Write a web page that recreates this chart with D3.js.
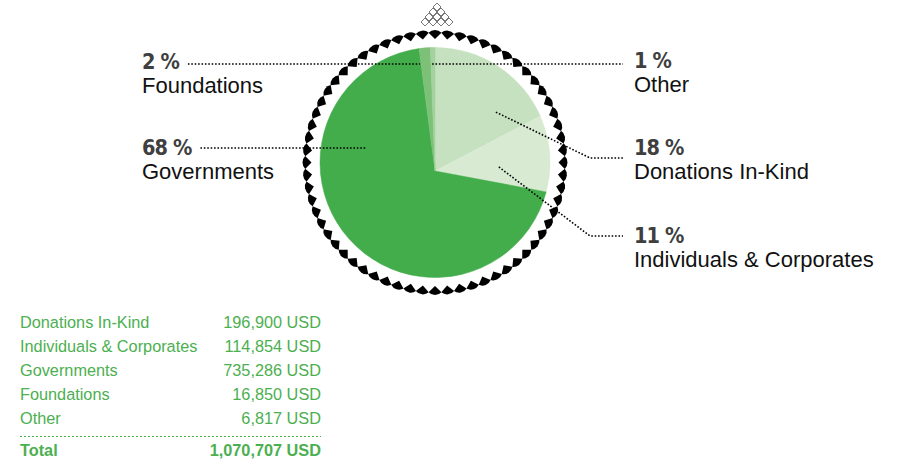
<!DOCTYPE html>
<html>
<head>
<meta charset="utf-8">
<script src="https://cdn.jsdelivr.net/npm/d3@7"></script>
<style>
  body { margin: 0; background: #fff; }
  svg { display: block; }
</style>
</head>
<body>
<div id="chart"></div>
<script>
var categories = ["Donations In-Kind", "Individuals & Corporates", "Governments", "Foundations", "Other"];
var amounts = [196900, 114854, 735286, 16850, 6817];
var percentLabels = ["18 %", "11 %", "68 %", "2 %", "1 %"];
var totalLabel = "Total";
var currency = "USD";

var sliceColors = ["#c6e1bf", "#d8ebd2", "#43ac4b", "#7cc177", "#a3d29c"];

// label layout: side, y of leader line, anchor inside the slice (polar, deg / px)
var labelLayout = [
  {side: "right", lineY: 158, pctY: 155, anchor: [50.4, 79], elbowX: 590},
  {side: "right", lineY: 236, pctY: 243, anchor: [94, 64], elbowX: 590},
  {side: "left", lineY: 148, pctY: 155, anchor: [281.9, 70.5]},
  {side: "left", lineY: 64, pctY: 69, anchor: [351.3, 99.6]},
  {side: "right", lineY: 64, pctY: 68, anchor: [358.3, 98.5]}
];

var width = 897,
    height = 461,
    cx = 435,
    cy = 162.5,
    radius = 115,
    apex_drop = 8.5,      // slices meet slightly below the circle centre
    ring_radius = 123.5,
    marker_count = 64,
    left_text_x = 142,
    right_text_x = 634,
    right_line_end = 623;

var svg = d3.select("#chart").append("svg")
    .attr("width", width)
    .attr("height", height);

var pie = d3.pie().sort(null).value(function (d) { return d; });
var arcs = pie(amounts);

function polar(angle, r) {
  return [cx + r * Math.sin(angle), cy - r * Math.cos(angle)];
}

function slice_path(d) {
  var p = d3.path();
  var start = polar(d.startAngle, radius);
  p.moveTo(cx, cy + apex_drop);
  p.lineTo(start[0], start[1]);
  p.arc(cx, cy, radius, d.startAngle - Math.PI / 2, d.endAngle - Math.PI / 2);
  p.closePath();
  return p.toString();
}

svg.append("g").selectAll("path")
    .data(arcs)
    .enter().append("path")
    .attr("d", slice_path)
    .attr("fill", function (d, i) { return sliceColors[i]; })
    .attr("stroke", function (d, i) { return sliceColors[i]; })
    .attr("stroke-width", 0.5);

// ring of little inward pointing fans
var fan = d3.arc()
    .innerRadius(0)
    .outerRadius(9)
    .startAngle(-0.8)
    .endAngle(0.8);

svg.append("g").selectAll("path")
    .data(d3.range(marker_count))
    .enter().append("path")
    .attr("d", fan)
    .attr("fill", "#000")
    .attr("transform", function (i) {
      var a = i * 2 * Math.PI / marker_count;
      var p = polar(a, ring_radius);
      return "translate(" + p[0] + "," + p[1] + ") rotate(" + (a * 180 / Math.PI) + ")";
    });

// small stack of diamonds on top of the ring
var diamonds = [];
for (var row = 0; row < 4; row++) {
  for (var k = 0; k <= row; k++) {
    diamonds.push([cx + 2 + (k - row / 2) * 8, 7 + row * 5]);
  }
}
svg.append("g").selectAll("path")
    .data(diamonds)
    .enter().append("path")
    .attr("d", function (d) {
      return "M" + d[0] + "," + (d[1] - 4) + "L" + (d[0] + 4) + "," + d[1] +
          "L" + d[0] + "," + (d[1] + 4) + "L" + (d[0] - 4) + "," + d[1] + "Z";
    })
    .attr("fill", "#fff")
    .attr("stroke", "#555")
    .attr("stroke-width", 0.8);

// labels and leader lines
var labels = svg.append("g");
var line = d3.line();

arcs.forEach(function (d, i) {
  var lay = labelLayout[i];
  var x = lay.side === "left" ? left_text_x : right_text_x;

  var pct = labels.append("text")
      .attr("x", x)
      .attr("y", lay.pctY)
      .attr("font-family", "'DejaVu Sans Condensed', 'Liberation Sans Narrow', 'Liberation Sans', sans-serif")
      .attr("font-weight", "bold")
      .attr("font-size", 21.5)
      .attr("letter-spacing", -0.9)
      .attr("fill", "#3f3f3f")
      .text(percentLabels[i]);

  labels.append("text")
      .attr("x", x)
      .attr("y", lay.pctY + 24)
      .attr("font-family", "'Liberation Sans', Arial, sans-serif")
      .attr("font-size", 22)
      .attr("fill", "#111")
      .text(categories[i]);

  var anchor = polar(lay.anchor[0] * Math.PI / 180, lay.anchor[1]);
  var pts;
  if (lay.side === "left") {
    var start = x + pct.node().getComputedTextLength() + 9;
    pts = [[start, lay.lineY], [anchor[0], lay.lineY]];
  } else if (lay.elbowX) {
    pts = [anchor, [lay.elbowX, lay.lineY], [right_line_end, lay.lineY]];
  } else {
    pts = [[anchor[0], lay.lineY], [right_line_end, lay.lineY]];
  }
  labels.append("path")
      .attr("d", line(pts))
      .attr("fill", "none")
      .attr("stroke", "#000")
      .attr("stroke-width", 1.6)
      .attr("stroke-dasharray", "1.6,1.8");
});

// table of amounts
var green = "#4caf50",
    table_left = 20,
    table_right = 321,
    first_row = 328,
    row_step = 24;

var fmt = d3.format(",");
var table = svg.append("g")
    .attr("font-family", "'Liberation Sans', Arial, sans-serif")
    .attr("font-size", 16.3)
    .attr("fill", green);

categories.forEach(function (name, i) {
  table.append("text")
      .attr("x", table_left)
      .attr("y", first_row + i * row_step)
      .text(name);
  table.append("text")
      .attr("x", table_right)
      .attr("y", first_row + i * row_step)
      .attr("text-anchor", "end")
      .text(fmt(amounts[i]) + " " + currency);
});

table.append("line")
    .attr("x1", table_left)
    .attr("x2", table_right)
    .attr("y1", 436.5)
    .attr("y2", 436.5)
    .attr("stroke", green)
    .attr("stroke-width", 1)
    .attr("stroke-dasharray", "2,2");

table.append("text")
    .attr("x", table_left)
    .attr("y", 456)
    .attr("font-weight", "bold")
    .text(totalLabel);
table.append("text")
    .attr("x", table_right)
    .attr("y", 456)
    .attr("text-anchor", "end")
    .attr("font-weight", "bold")
    .text(fmt(d3.sum(amounts)) + " " + currency);
</script>
</body>
</html>
